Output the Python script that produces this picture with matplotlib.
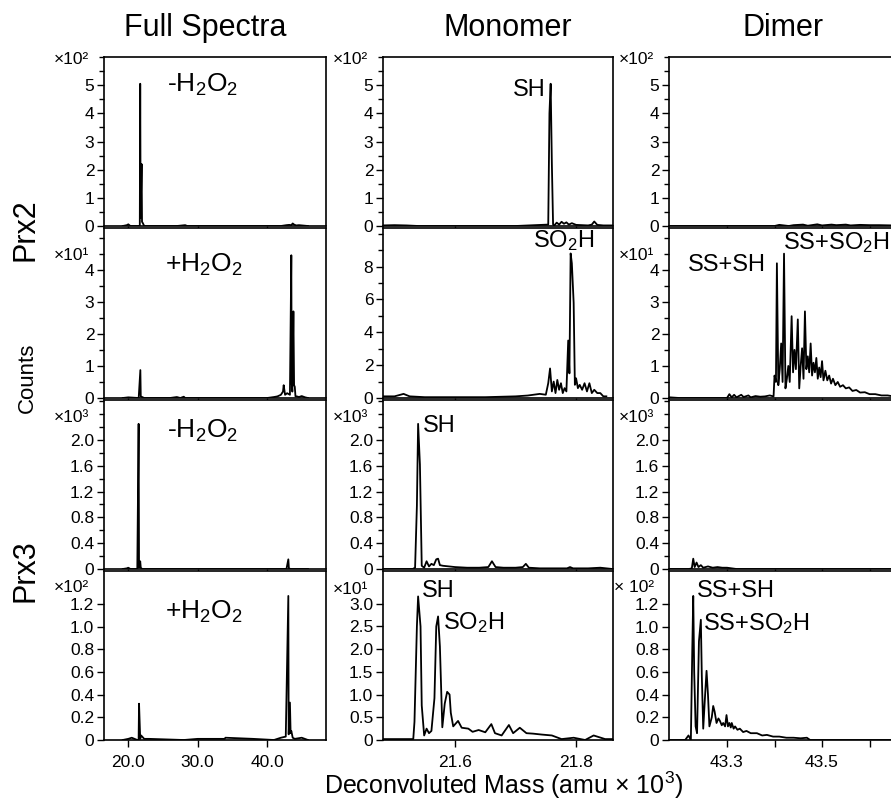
import matplotlib
matplotlib.use("Agg")
import matplotlib.pyplot as plt
from matplotlib.ticker import MultipleLocator, FixedLocator, FuncFormatter
import numpy as np

plt.rcParams['font.family'] = ['Liberation Sans', 'DejaVu Sans']
plt.rcParams['mathtext.fontset'] = 'custom'
plt.rcParams['mathtext.rm'] = 'Liberation Sans'
plt.rcParams['mathtext.it'] = 'Liberation Sans:italic'

# ---- data: deconvoluted mass (amu x 10^3) and counts (in units of the panel multiplier) ----
# Prx2, -H2O2
prx2_minus_full_mass = [19.2, 19.8, 20.0, 20.3, 21.5, 21.66, 21.72, 21.78, 21.92, 21.98, 22.1, 22.3, 27.0,
                        28.2, 28.5, 34.0, 42.0, 42.8, 43.2, 43.5, 43.7, 43.9, 44.2, 44.6, 45.9]
prx2_minus_full_counts = [0, 0.03, 0.06, 0, 0, 0, 5.05, 0.3, 2.2, 0.15, 0.1, 0, 0,
                          0.03, 0, 0, 0, 0.03, 0.04, 0.03, 0.09, 0.05, 0.02, 0.03, 0]
prx2_minus_mono_mass = [21.48, 21.50, 21.52, 21.54, 21.60, 21.70, 21.754, 21.756, 21.758, 21.760, 21.762,
                        21.764, 21.768, 21.772, 21.776, 21.780, 21.784, 21.788, 21.793, 21.800, 21.810,
                        21.820, 21.826, 21.830, 21.835, 21.845, 21.86]
prx2_minus_mono_counts = [0.02, 0.03, 0.02, 0.0, 0.0, 0.0, 0.05, 4.0, 5.05, 2.2, 0.05,
                          0.02, 0.12, 0.05, 0.15, 0.08, 0.13, 0.05, 0.1, 0.04, 0.03,
                          0.02, 0.05, 0.16, 0.04, 0.02, 0.02]
prx2_minus_dimer_mass = [43.18, 43.30, 43.40, 43.41, 43.43, 43.44, 43.46, 43.47, 43.49, 43.50, 43.52,
                         43.53, 43.55, 43.56, 43.58, 43.60, 43.62, 43.65]
prx2_minus_dimer_counts = [0, 0, 0, 0.04, 0, 0.03, 0.05, 0.01, 0.06, 0.02, 0.05,
                           0.03, 0.05, 0.02, 0.04, 0.03, 0.03, 0.02]

# Prx2, +H2O2
prx2_plus_full_mass = [19.2, 20.0, 21.5, 21.74, 21.80, 22.0, 22.3, 26.0, 27.0, 27.5, 28.0, 28.2, 29.0,
                       40.0, 41.0, 41.5, 42.0, 42.3, 42.4, 42.6, 42.9, 43.3, 43.5, 43.55, 43.65, 43.8,
                       43.9, 44.0, 44.1, 44.3, 44.6, 45.0, 45.5, 45.9]
prx2_plus_full_counts = [0, 0.02, 0, 0.87, 0.05, 0.03, 0, 0, 0.03, 0, 0.04, 0, 0,
                         0, 0.03, 0.05, 0.1, 0.2, 0.4, 0.1, 0.15, 0.1, 4.45, 0.5, 0.2, 2.7,
                         0.4, 0.35, 0.05, 0.05, 0.03, 0.06, 0.02, 0]
prx2_plus_mono_mass = [21.48, 21.50, 21.515, 21.525, 21.55, 21.60, 21.65, 21.70, 21.72, 21.74, 21.750,
                       21.754, 21.757, 21.760, 21.763, 21.766, 21.769, 21.772, 21.775, 21.778, 21.781,
                       21.784, 21.787, 21.789, 21.791, 21.793, 21.796, 21.798, 21.800, 21.803, 21.806,
                       21.810, 21.814, 21.818, 21.822, 21.826, 21.830, 21.835, 21.840, 21.845, 21.85]
prx2_plus_mono_counts = [0.1, 0.1, 0.25, 0.1, 0.05, 0.05, 0.05, 0.1, 0.15, 0.25, 0.2,
                         0.9, 1.8, 0.4, 1.0, 0.3, 1.1, 0.5, 0.9, 0.3, 0.6,
                         0.4, 3.5, 1.5, 8.8, 8.2, 5.8, 0.8, 1.2, 0.6, 0.8,
                         0.5, 0.9, 0.4, 0.9, 0.3, 0.5, 0.3, 0.3, 0.1, 0.1]
prx2_plus_dimer_mass = [43.18, 43.20, 43.30, 43.305, 43.31, 43.315, 43.32, 43.33, 43.335, 43.345, 43.35,
                        43.36, 43.37, 43.38, 43.39, 43.398, 43.400, 43.403, 43.405, 43.408, 43.411,
                        43.414, 43.417, 43.420, 43.423, 43.426, 43.429, 43.432, 43.436, 43.439, 43.442,
                        43.445, 43.449, 43.452, 43.455, 43.458, 43.461, 43.464, 43.467, 43.470, 43.473,
                        43.476, 43.479, 43.482, 43.485, 43.488, 43.491, 43.494, 43.497, 43.500, 43.503,
                        43.507, 43.511, 43.515, 43.519, 43.523, 43.528, 43.533, 43.538, 43.544, 43.550,
                        43.557, 43.564, 43.572, 43.580, 43.590, 43.600, 43.612, 43.625, 43.638, 43.65]
prx2_plus_dimer_counts = [0.02, 0.0, 0.0, 0.12, 0.02, 0.1, 0.02, 0.1, 0.03, 0.08, 0.02,
                          0.06, 0.04, 0.05, 0.08, 0.05, 0.7, 0.5, 4.2, 0.4, 0.9,
                          1.7, 0.5, 4.5, 0.3, 0.6, 1.0, 0.5, 2.55, 0.8, 1.5,
                          0.9, 2.45, 0.3, 1.0, 1.55, 0.6, 2.7, 0.9, 1.3, 0.8,
                          1.7, 0.7, 1.1, 0.8, 1.25, 0.6, 0.95, 0.65, 1.15, 0.55,
                          0.85, 0.55, 0.7, 0.45, 0.6, 0.4, 0.5, 0.35, 0.4, 0.3,
                          0.33, 0.22, 0.25, 0.17, 0.18, 0.12, 0.12, 0.08, 0.08, 0.05]

# Prx3, -H2O2
prx3_minus_full_mass = [19.2, 19.8, 20.0, 20.3, 21.3, 21.49, 21.55, 21.72, 21.8, 22.0, 42.8, 43.07,
                        43.15, 43.4, 45.9]
prx3_minus_full_counts = [0, 0.01, 0.02, 0, 0, 2.25, 0.02, 0.12, 0.02, 0, 0, 0.15,
                          0.01, 0, 0]
prx3_minus_mono_mass = [21.48, 21.50, 21.52, 21.530, 21.534, 21.537, 21.539, 21.542, 21.545, 21.549,
                        21.553, 21.557, 21.561, 21.565, 21.569, 21.572, 21.575, 21.58, 21.59, 21.60,
                        21.62, 21.64, 21.655, 21.661, 21.667, 21.68, 21.70, 21.712, 21.717, 21.722,
                        21.74, 21.76, 21.785, 21.79, 21.795, 21.82, 21.84, 21.86]
prx3_minus_mono_counts = [0, 0, 0, 0, 0.02, 0.98, 2.25, 1.62, 0.05, 0.02,
                          0.12, 0.04, 0.08, 0.06, 0.15, 0.16, 0.06, 0.05, 0.04, 0.03,
                          0.02, 0.02, 0.03, 0.12, 0.03, 0.02, 0.02, 0.03, 0.08, 0.02,
                          0.01, 0.01, 0.01, 0.03, 0.01, 0.01, 0.02, 0.0]
prx3_minus_dimer_mass = [43.18, 43.22, 43.226, 43.229, 43.232, 43.236, 43.24, 43.245, 43.25, 43.26,
                         43.27, 43.28, 43.29, 43.30, 43.31, 43.32, 43.65]
prx3_minus_dimer_counts = [0, 0, 0.01, 0.16, 0.03, 0.1, 0.03, 0.06, 0.02, 0.04,
                           0.02, 0.03, 0.02, 0.02, 0.01, 0, 0]

# Prx3, +H2O2
prx3_plus_full_mass = [19.2, 20.0, 20.5, 21.3, 21.49, 21.55, 21.72, 21.85, 22.3, 23.0, 28.0, 30.0, 33.9,
                       34.0, 38.0, 41.0, 42.0, 42.7, 43.07, 43.12, 43.3, 43.4, 43.5, 43.7, 44.0, 45.0,
                       45.9]
prx3_plus_full_counts = [0, 0.01, 0.02, 0, 0, 0.32, 0.01, 0.04, 0.01, 0.01, 0, 0.01, 0.01,
                         0.02, 0.01, 0.0, 0.02, 0.03, 1.27, 0.05, 0.33, 0.06, 0.08, 0.02, 0.01, 0.02,
                         0]
prx3_plus_mono_mass = [21.48, 21.50, 21.531, 21.533, 21.537, 21.539, 21.543, 21.545, 21.549, 21.553,
                       21.557, 21.561, 21.566, 21.569, 21.572, 21.575, 21.579, 21.583, 21.587, 21.591,
                       21.593, 21.597, 21.605, 21.611, 21.622, 21.629, 21.639, 21.650, 21.660, 21.666,
                       21.677, 21.689, 21.696, 21.707, 21.718, 21.729, 21.743, 21.760, 21.776, 21.796,
                       21.815, 21.829, 21.848, 21.86]
prx3_plus_mono_counts = [0.02, 0.02, 0.02, 0.4, 2.5, 3.16, 2.5, 0.76, 0.1, 0.25,
                         0.15, 0.2, 0.92, 2.5, 2.72, 2.06, 0.28, 0.8, 1.06, 1.0,
                         0.6, 0.3, 0.42, 0.27, 0.25, 0.18, 0.22, 0.17, 0.35, 0.15,
                         0.1, 0.33, 0.15, 0.27, 0.15, 0.14, 0.12, 0.1, 0.02, 0.05,
                         0.0, 0.1, 0.02, 0.02]
prx3_plus_dimer_mass = [43.18, 43.212, 43.219, 43.224, 43.227, 43.229, 43.231, 43.234, 43.237, 43.241,
                        43.245, 43.247, 43.250, 43.254, 43.257, 43.260, 43.263, 43.268, 43.271, 43.274,
                        43.278, 43.282, 43.285, 43.289, 43.292, 43.296, 43.299, 43.302, 43.305, 43.308,
                        43.310, 43.314, 43.317, 43.322, 43.327, 43.334, 43.341, 43.350, 43.363, 43.374,
                        43.384, 43.397, 43.410, 43.425, 43.440, 43.455, 43.468, 43.475, 43.65]
prx3_plus_dimer_counts = [0, 0, 0.04, 0.0, 0.8, 1.27, 0.6, 0.12, 0.06, 0.87,
                          1.06, 0.57, 0.1, 0.4, 0.61, 0.4, 0.12, 0.2, 0.3, 0.25,
                          0.15, 0.19, 0.17, 0.13, 0.15, 0.12, 0.22, 0.12, 0.15, 0.11,
                          0.15, 0.1, 0.12, 0.09, 0.1, 0.07, 0.08, 0.06, 0.06, 0.04,
                          0.045, 0.03, 0.03, 0.02, 0.02, 0.015, 0.02, 0.0, 0.0]

col_titles = ['Full Spectra', 'Monomer', 'Dimer']
xlabel = 'Deconvoluted Mass (amu \u00d7 10$^3$)'

spectra = [
    [(prx2_minus_full_mass, prx2_minus_full_counts), (prx2_minus_mono_mass, prx2_minus_mono_counts),
     (prx2_minus_dimer_mass, prx2_minus_dimer_counts)],
    [(prx2_plus_full_mass, prx2_plus_full_counts), (prx2_plus_mono_mass, prx2_plus_mono_counts),
     (prx2_plus_dimer_mass, prx2_plus_dimer_counts)],
    [(prx3_minus_full_mass, prx3_minus_full_counts), (prx3_minus_mono_mass, prx3_minus_mono_counts),
     (prx3_minus_dimer_mass, prx3_minus_dimer_counts)],
    [(prx3_plus_full_mass, prx3_plus_full_counts), (prx3_plus_mono_mass, prx3_plus_mono_counts),
     (prx3_plus_dimer_mass, prx3_plus_dimer_counts)],
]

multipliers = [['\u00d710\u00b2', '\u00d710\u00b2', '\u00d710\u00b2'],
               ['\u00d710\u00b9', None, '\u00d710\u00b9'],
               ['\u00d710\u00b3', '\u00d710\u00b3', '\u00d710\u00b3'],
               ['\u00d710\u00b2', '\u00d710\u00b9', '\u00d7 10\u00b2']]

# y axis: (top, major step, last labelled major, minor step, decimals)
yaxis = [[(6.0, 1, 5, 0.5, 0)] * 3,
         [(5.3, 1, 4, 0.5, 0), (10.35, 2, 8, 1, 0), (5.3, 1, 4, 0.5, 0)],
         [(2.62, 0.4, 2.0, 0.2, 1)] * 3,
         [(1.49, 0.2, 1.2, None, 1), (3.72, 0.5, 3.0, None, 1), (1.49, 0.2, 1.2, None, 1)]]

# ---- layout in pixels ----
W, H = 891, 806
fig = plt.figure(figsize=(W / 100, H / 100), dpi=100)
cols_px = [(104, 326), (383, 613), (669, 900)]
rows_px = [(57, 226), (228, 398), (400, 569), (571, 740)]
xlims = [(16.5, 48.5), (21.481, 21.861), (43.178, 43.664)]
mult_y_px = [[60, 60, 60], [255, 255, 255], [417, 417, 417], [588, 589, 588]]


def zero_fmt(dec):
    def f(v, pos):
        if abs(v) < 1e-9:
            return '0'
        return f'{v:.{dec}f}'
    return FuncFormatter(f)


axes = []
for r, (top, bot) in enumerate(rows_px):
    row = []
    for c, (left, right) in enumerate(cols_px):
        ax = fig.add_axes([left / W, 1 - bot / H, (right - left) / W, (bot - top) / H])
        m, y = spectra[r][c]
        ax.plot(m, y, color='black', lw=1.3)
        ax.set_xlim(*xlims[c])
        ytop, step, last, minor, dec = yaxis[r][c]
        ax.set_ylim(0, ytop)
        ax.yaxis.set_major_locator(FixedLocator(np.arange(0, last + step / 2, step)))
        ax.yaxis.set_major_formatter(zero_fmt(dec))
        if minor:
            ax.yaxis.set_minor_locator(MultipleLocator(minor))
        if c == 0:
            ax.xaxis.set_major_locator(FixedLocator([20, 30, 40]))
        elif c == 1:
            ax.xaxis.set_major_locator(FixedLocator([21.6, 21.8]))
        else:
            ax.xaxis.set_major_locator(FixedLocator([43.3, 43.5]))
            ax.xaxis.set_minor_locator(FixedLocator([43.4, 43.6]))
        ax.xaxis.set_major_formatter(FuncFormatter(lambda v, p: f'{v:.1f}'))
        ax.tick_params(which='major', direction='out', length=5, width=1, labelsize=12.5, pad=2)
        ax.tick_params(which='minor', direction='out', length=3.5, width=1)
        ax.tick_params(axis='x', which='minor', length=5)
        if r < 3:
            ax.tick_params(axis='x', labelbottom=False)
        else:
            ax.tick_params(axis='x', pad=6)
        for s in ax.spines.values():
            s.set_linewidth(1.2)
        if multipliers[r][c]:
            fig.text((left - 15) / W, 1 - mult_y_px[r][c] / H, multipliers[r][c],
                     ha='right', va='center', fontsize=12.5)
        row.append(ax)
    axes.append(row)

# panel annotations
ann = dict(fontsize=19, va='center', ha='left')
axes[0][0].text(25.6, 5.0, '-H$_2$O$_2$', **ann)
axes[1][0].text(25.3, 4.16, '+H$_2$O$_2$', **ann)
axes[2][0].text(25.6, 2.14, '-H$_2$O$_2$', **ann)
axes[3][0].text(25.3, 1.13, '+H$_2$O$_2$', **ann)

lab = dict(fontsize=17, va='center')
axes[0][1].text(21.7505, 4.82, 'SH', ha='right', **lab)
axes[1][1].text(21.729, 9.57, 'SO$_2$H', ha='left', **lab)
axes[2][1].text(21.547, 2.22, 'SH', ha='left', **lab)
axes[3][1].text(21.545, 3.27, 'SH', ha='left', **lab)
axes[3][1].text(21.580, 2.58, 'SO$_2$H', ha='left', **lab)
axes[1][2].text(43.218, 4.16, 'SS+SH', ha='left', **lab)
axes[1][2].text(43.418, 4.84, 'SS+SO$_2$H', ha='left', clip_on=False, **lab)
axes[3][2].text(43.237, 1.31, 'SS+SH', ha='left', **lab)
axes[3][2].text(43.249, 1.03, 'SS+SO$_2$H', ha='left', **lab)

# titles and side labels
for t, cx in zip(col_titles, [205, 508, 783]):
    fig.text(cx / W, 1 - 28 / H, t, ha='center', va='center', fontsize=22)
fig.text(25 / W, 1 - 230 / H, 'Prx2', rotation=90, ha='center', va='center', fontsize=22)
fig.text(27 / W, 1 - 378 / H, 'Counts', rotation=90, ha='center', va='center', fontsize=16)
fig.text(25 / W, 1 - 571 / H, 'Prx3', rotation=90, ha='center', va='center', fontsize=22)
fig.text(504 / W, 1 - 785 / H, xlabel, ha='center', va='center', fontsize=18)

fig.savefig('out.png', dpi=100)
